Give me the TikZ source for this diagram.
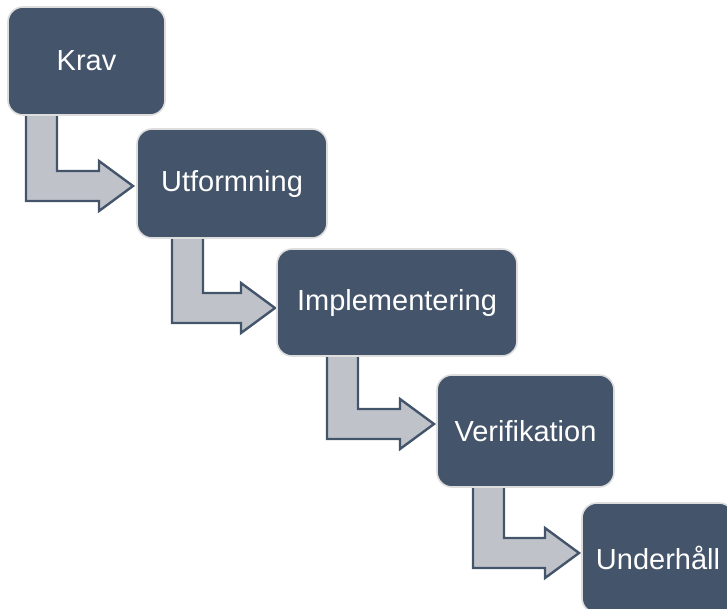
\documentclass[tikz,border=0pt]{standalone}
\usepackage{fontspec}
\setmainfont{Liberation Sans}
\definecolor{boxfill}{HTML}{44546A}
\definecolor{boxrim}{HTML}{DDDDDD}
\definecolor{arrowfill}{HTML}{BFC3C9}
\tikzset{
  phase/.style={draw=boxrim, line width=1.6pt, fill=boxfill, rounded corners=15pt,
    text=white, font=\fontsize{29}{33}\selectfont, inner sep=0pt},
  bendarrow/.style={draw=boxfill, line width=2.4pt, fill=arrowfill, line join=miter},
}
% bent block arrow: #1 shaft left x, #2 shaft top y, #3 tip x, #4 tip y
\newcommand\bentarrow[4]{%
  \draw[bendarrow] (#1,#2) -- (#1+31,#2) -- (#1+31,#4-15) -- (#3-34,#4-15)
    -- (#3-34,#4-25) -- (#3,#4) -- (#3-34,#4+25) -- (#3-34,#4+15)
    -- (#1,#4+15) -- cycle;}
\begin{document}
\begin{tikzpicture}[x=1pt, y=-1pt]
  \useasboundingbox (0,0) rectangle (727,608);
  \clip (0,0) rectangle (727,608);

  % arrows go underneath the boxes
  \bentarrow{26}{110}{133}{186}
  \bentarrow{172}{233}{275}{308}
  \bentarrow{327}{351}{434}{424}
  \bentarrow{473}{482}{579}{553}

  \node[phase, minimum width=157pt, minimum height=108pt] (krav) at (86.5,61) {Krav};
  \node[phase, minimum width=190pt, minimum height=109pt] (utf) at (232,183.5) {Utformning};
  \node[phase, minimum width=240pt, minimum height=107pt] (impl) at (397,302.5) {Implementering};
  \node[phase, minimum width=177pt, minimum height=112pt] (verif) at (525.5,431) {Verifikation};
  \node[phase, minimum width=152pt, minimum height=110pt] (under) at (658,558) {Underhåll};
\end{tikzpicture}
\end{document}
